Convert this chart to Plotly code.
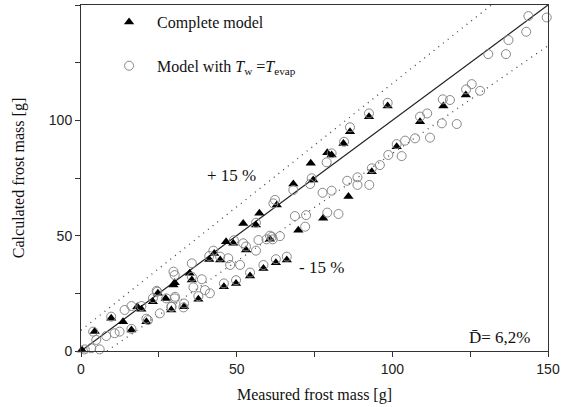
import plotly.graph_objects as go

# Complete model (filled triangles)
tri_x = [0.3, 4.4, 9.7, 13.5, 18.1, 19.4, 23.1, 24.7, 27.2, 29.7, 30.1, 34.9, 35.6, 41.2, 42.8, 44.7,
         46.6, 48.9, 52.1, 56.2, 57.3, 62.9, 68.2, 69.8, 73.8, 74.6, 77.8, 79.1, 80.5, 84.3, 85.9,
         86.4, 92.5, 93.4, 98.5, 101.4, 108.9, 116.4, 123.6,
         16.2, 21.0, 29.0, 33.1, 37.7, 45.9, 49.8, 54.3, 58.6, 62.6, 66.1, 53.0, 60.7]
tri_y = [0.4, 8.4, 14.2, 12.7, 19.2, 18.1, 21.4, 25.0, 22.8, 28.6, 29.6, 33.7, 30.8, 39.7, 42.3, 39.4,
         47.4, 46.7, 55.3, 54.6, 59.7, 63.3, 72.4, 52.4, 81.4, 74.1, 57.5, 86.0, 85.0, 90.0, 67.0,
         95.1, 101.6, 77.7, 106.2, 88.6, 99.4, 106.2, 111.0,
         9.1, 12.7, 17.8, 19.2, 22.4, 27.9, 29.3, 32.5, 35.8, 38.3, 39.4, 43.8, 48.4]

# Model with Tw = Tevap (open circles)
cir_x = [1.2, 3.3, 6.0, 3.9, 4.9, 8.1, 10.8, 12.4, 16.2, 9.7, 14.0, 16.2, 21.5, 25.3, 24.5, 27.4,
         30.1, 29.1, 32.9, 30.1, 29.7, 24.3, 30.2, 35.6, 36.1, 37.7, 38.8, 39.8, 41.4, 42.5, 47.3,
         47.9, 51.1, 49.1, 52.1, 56.2, 57.0, 59.6, 61.6, 56.2, 61.8, 61.3, 63.9, 62.3, 68.2, 68.7,
         72.3, 72.0, 73.6, 74.1, 77.6, 80.5, 79.1, 82.7, 78.9, 80.5, 84.5, 86.4, 85.5, 88.8, 88.8,
         92.6, 93.4, 96.0, 98.7, 101.4, 104.1, 103.0, 92.5, 98.5, 107.3, 112.1, 108.9, 111.2,
         115.9, 120.7, 116.2, 118.5, 123.7, 125.5, 128.2, 130.8, 136.5, 137.3, 143.0, 143.7, 149.6,
         45.9, 49.8, 54.3, 58.6, 62.6, 66.1, 53.0, 60.7, 21.0, 29.0, 33.1, 19.4, 23.1, 44.7, 41.2, 35.6]
cir_y = [0.7, 1.2, 0.7, 8.4, 4.8, 6.5, 7.7, 8.4, 9.6, 14.9, 17.8, 19.5, 13.4, 16.3, 25.7, 22.8,
         22.8, 19.2, 18.9, 32.9, 34.4, 26.1, 23.5, 38.0, 27.6, 23.8, 31.1, 26.4, 25.0, 43.5, 40.2,
         37.3, 37.3, 48.0, 46.7, 43.5, 48.1, 48.4, 48.4, 55.6, 64.0, 49.5, 49.8, 65.5, 69.8, 58.5,
         58.9, 53.9, 72.4, 74.9, 68.6, 69.5, 60.0, 59.4, 81.8, 85.7, 90.7, 97.0, 73.8, 75.3, 72.0,
         72.0, 79.2, 80.6, 85.0, 89.7, 91.2, 84.5, 103.0, 107.6, 92.2, 92.5, 101.6, 103.0,
         98.7, 98.4, 109.1, 108.8, 113.4, 115.7, 112.8, 128.7, 128.7, 134.8, 138.4, 145.2, 144.6,
         29.3, 30.7, 34.0, 37.3, 39.8, 40.9, 45.3, 50.0, 14.0, 19.2, 20.6, 19.5, 22.9, 40.9, 41.2, 32.2]

# reference lines
diag_x = [0, 150]
diag_y = [0, 150]
upper_x = [0, 131.8]
upper_y = [9.0, 150.0]
lower_x = [8.35, 150]
lower_y = [0.0, 132.3]

tick_vals = [0, 25, 50, 75, 100, 125, 150]
tick_text = ["0", "", "50", "", "100", "", "150"]

serif = "Liberation Serif, Times New Roman, serif"
sans = "Liberation Sans, Arial, sans-serif"

fig = go.Figure()
fig.add_trace(go.Scatter(x=diag_x, y=diag_y, mode="lines", line=dict(color="#222", width=1.2),
                         showlegend=False, hoverinfo="skip"))
fig.add_trace(go.Scatter(x=upper_x, y=upper_y, mode="lines", line=dict(color="#444", width=1.3, dash="1px,5px"),
                         showlegend=False, hoverinfo="skip"))
fig.add_trace(go.Scatter(x=lower_x, y=lower_y, mode="lines", line=dict(color="#444", width=1.3, dash="1px,5px"),
                         showlegend=False, hoverinfo="skip"))
fig.add_trace(go.Scatter(x=tri_x, y=tri_y, mode="markers", name="Complete model", legendgroup="a",
                         marker=dict(symbol="triangle-up", size=9, color="black"), cliponaxis=False))
fig.add_trace(go.Scatter(x=cir_x, y=cir_y, mode="markers", legendgroup="b",
                         name="Model with <i>T</i><sub>w</sub> =<i>T</i><sub>evap</sub>",
                         marker=dict(symbol="circle-open", size=9, color="#888", line=dict(width=1)),
                         cliponaxis=False))

fig.add_annotation(x=48.2, y=75.9, text="+ 15 %", showarrow=False, font=dict(family=serif, size=17, color="#111"))
fig.add_annotation(x=77.4, y=36.0, text="- 15 %", showarrow=False, font=dict(family=serif, size=17, color="#111"))
fig.add_annotation(x=134.6, y=5.8, text="D\u0304= 6,2%", showarrow=False, font=dict(family=serif, size=17, color="#111"))

fig.update_layout(
    width=568, height=407,
    margin=dict(l=81, r=20, t=5, b=56, autoexpand=False),
    paper_bgcolor="white", plot_bgcolor="white",
    legend=dict(x=0.043, y=1.0, xanchor="left", yanchor="top", traceorder="grouped", tracegroupgap=20,
                font=dict(family=serif, size=16, color="#111"), bgcolor="rgba(0,0,0,0)", itemwidth=46),
)
fig.update_xaxes(range=[0, 150], tickvals=tick_vals, ticktext=tick_text, ticks="outside", ticklen=5,
                 tickcolor="#333", showline=True, linecolor="#333", linewidth=1, mirror=True,
                 showgrid=False, zeroline=False, automargin=False,
                 tickfont=dict(family=sans, size=14, color="#222"),
                 title=dict(text="Measured frost mass [g]", font=dict(family=serif, size=16, color="#111"), standoff=13))
fig.update_yaxes(range=[0, 150], tickvals=tick_vals, ticktext=tick_text, ticks="outside", ticklen=5,
                 tickcolor="#333", showline=True, linecolor="#333", linewidth=1, mirror=True,
                 showgrid=False, zeroline=False, automargin=False,
                 tickfont=dict(family=sans, size=14, color="#222"),
                 title=dict(text="Calculated frost mass [g]", font=dict(family=serif, size=16, color="#111"), standoff=20))

fig.write_html("out.html", config={"displayModeBar": False},
               post_script="document.body.style.margin='0';document.body.style.padding='0';")
